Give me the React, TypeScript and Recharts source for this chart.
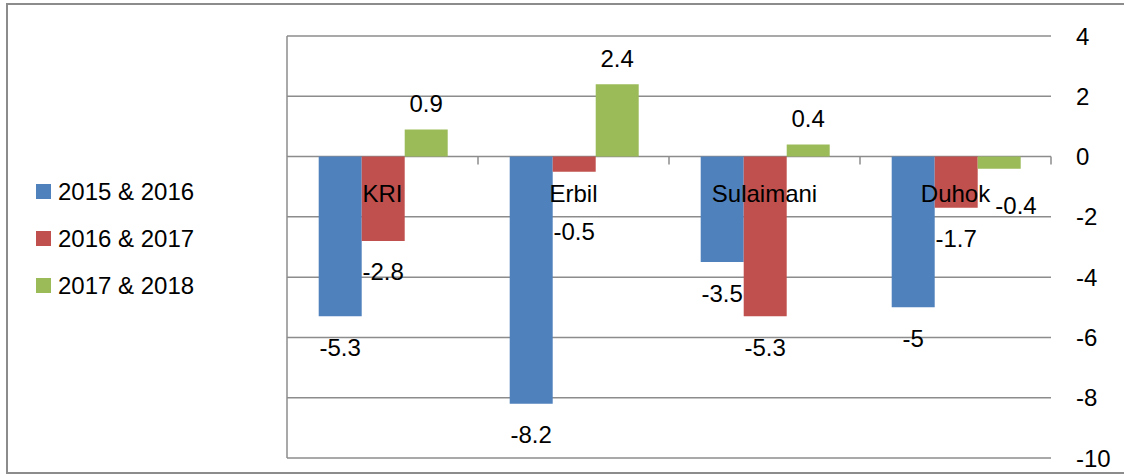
import React from 'react';
import {
  BarChart,
  Bar,
  XAxis,
  YAxis,
  CartesianGrid,
  LabelList
} from 'recharts';

const categories = ['KRI', 'Erbil', 'Sulaimani', 'Duhok'];
const seriesNames = ['2015 & 2016', '2016 & 2017', '2017 & 2018'];
const change2015_2016 = [-5.3, -8.2, -3.5, -5];
const change2016_2017 = [-2.8, -0.5, -5.3, -1.7];
const change2017_2018 = [0.9, 2.4, 0.4, -0.4];
const yTicks = [-10, -8, -6, -4, -2, 0, 2, 4];

const seriesColors = ['#4f81bd', '#c0504d', '#9bbb59'];
const seriesKeys = ['s1', 's2', 's3'];

const data = categories.map((name, i) => ({
  name,
  s1: change2015_2016[i],
  s2: change2016_2017[i],
  s3: change2017_2018[i]
}));

// chart geometry
const W = 1124;
const H = 475;
const MARGIN = { top: 36, right: 0, bottom: 16, left: 286 };
const X_AXIS_H = 1;
const LEFT_AXIS_W = 1;
const RIGHT_AXIS_W = 73;
const PLOT_LEFT = MARGIN.left + LEFT_AXIS_W;
const PLOT_TOP = MARGIN.top;
const PLOT_W = W - MARGIN.right - RIGHT_AXIS_W - PLOT_LEFT;
const PLOT_H = H - MARGIN.bottom - X_AXIS_H - PLOT_TOP;
const Y_MIN = yTicks[0];
const Y_MAX = yTicks[yTicks.length - 1];
const ZERO_Y = PLOT_TOP + ((Y_MAX - 0) / (Y_MAX - Y_MIN)) * PLOT_H;
const BAND = PLOT_W / categories.length;

const FONT = '"Liberation Sans", Arial, sans-serif';
const FS = 24;
const GRID = '#8c8c8c';
const CAT_LABEL_DY = 37;

const textWidth = (s: string) => s.length * 13;

const CategoryTick = (props: any) => {
  const { x, payload } = props;
  return (
    <g>
      <text
        x={x}
        y={ZERO_Y + CAT_LABEL_DY}
        textAnchor="middle"
        dominantBaseline="central"
        fontSize={FS}
        fontFamily={FONT}
        fill="#000"
      >
        {payload.value}
      </text>
      <line
        x1={x + BAND / 2}
        x2={x + BAND / 2}
        y1={ZERO_Y}
        y2={ZERO_Y + 8}
        stroke={GRID}
        strokeWidth={1.5}
      />
    </g>
  );
};

// value labels: above positive bars, below negative ones; moved off the category name if they collide
const ValueLabel = (props: any) => {
  const { x, y, width, height, value, index } = props;
  const top = Math.min(y, y + height);
  const bottom = Math.max(y, y + height);
  let lx = x + width / 2;
  let ly = value >= 0 ? top - 26 : bottom + 31;
  const txt = String(value);
  const lw = textWidth(txt);
  const cx = PLOT_LEFT + BAND * (index + 0.5);
  const cy = ZERO_Y + CAT_LABEL_DY;
  const cw = textWidth(categories[index]);
  if (Math.abs(lx - cx) < (lw + cw) / 2 && Math.abs(ly - cy) < 20) {
    if (lx - cx > 20) {
      lx = cx + cw / 2 + lw / 2 + 2;
      ly += 6;
    } else {
      ly = cy + 38;
    }
  }
  return (
    <text
      x={lx}
      y={ly}
      textAnchor="middle"
      dominantBaseline="central"
      fontSize={FS}
      fontFamily={FONT}
      fill="#000"
    >
      {txt}
    </text>
  );
};

const App: React.FunctionComponent = () => {
  return (
    <div
      style={{
        position: 'absolute',
        left: 0,
        top: 0,
        width: W,
        height: H,
        overflow: 'hidden',
        background: '#fff',
        fontFamily: FONT
      }}
    >
      <div
        style={{
          position: 'absolute',
          left: 6,
          top: 3,
          width: W,
          height: 471,
          boxSizing: 'border-box',
          border: `2px solid ${GRID}`
        }}
      />
      <div style={{ position: 'absolute', left: 0, top: 0 }}>
        <BarChart
          width={W}
          height={H}
          data={data}
          margin={MARGIN}
          barCategoryGap="16.6%"
          barGap={0}
        >
          <CartesianGrid
            yAxisId="right"
            vertical={false}
            stroke={GRID}
            strokeWidth={1.5}
          />
          <XAxis
            dataKey="name"
            height={X_AXIS_H}
            axisLine={false}
            tickLine={false}
            interval={0}
            tick={<CategoryTick />}
          />
          <YAxis
            yAxisId="left"
            orientation="left"
            width={LEFT_AXIS_W}
            domain={[Y_MIN, Y_MAX]}
            ticks={yTicks}
            tickFormatter={() => ''}
            tickSize={9}
            tickLine={{ stroke: GRID, strokeWidth: 1.5 }}
            axisLine={{ stroke: GRID, strokeWidth: 1.5 }}
          />
          <YAxis
            yAxisId="right"
            orientation="right"
            width={RIGHT_AXIS_W}
            domain={[Y_MIN, Y_MAX]}
            ticks={yTicks}
            tickLine={false}
            axisLine={false}
            tickSize={8}
            tickMargin={17}
            tick={{ fill: '#000', fontSize: FS, fontFamily: FONT, textAnchor: 'start' }}
          />
          {seriesKeys.map((k, i) => (
            <Bar
              key={k}
              yAxisId="right"
              dataKey={k}
              name={seriesNames[i]}
              fill={seriesColors[i]}
              isAnimationActive={false}
            >
              <LabelList dataKey={k} content={<ValueLabel />} />
            </Bar>
          ))}
        </BarChart>
      </div>
      <div style={{ position: 'absolute', left: 36, top: 168 }}>
        {seriesNames.map((n, i) => (
          <div
            key={n}
            style={{ display: 'flex', alignItems: 'center', height: 47 }}
          >
            <span
              style={{
                width: 15,
                height: 15,
                background: seriesColors[i],
                marginRight: 7,
                display: 'inline-block'
              }}
            />
            <span style={{ fontSize: FS, color: '#000', whiteSpace: 'nowrap' }}>{n}</span>
          </div>
        ))}
      </div>
    </div>
  );
};

export default App;
